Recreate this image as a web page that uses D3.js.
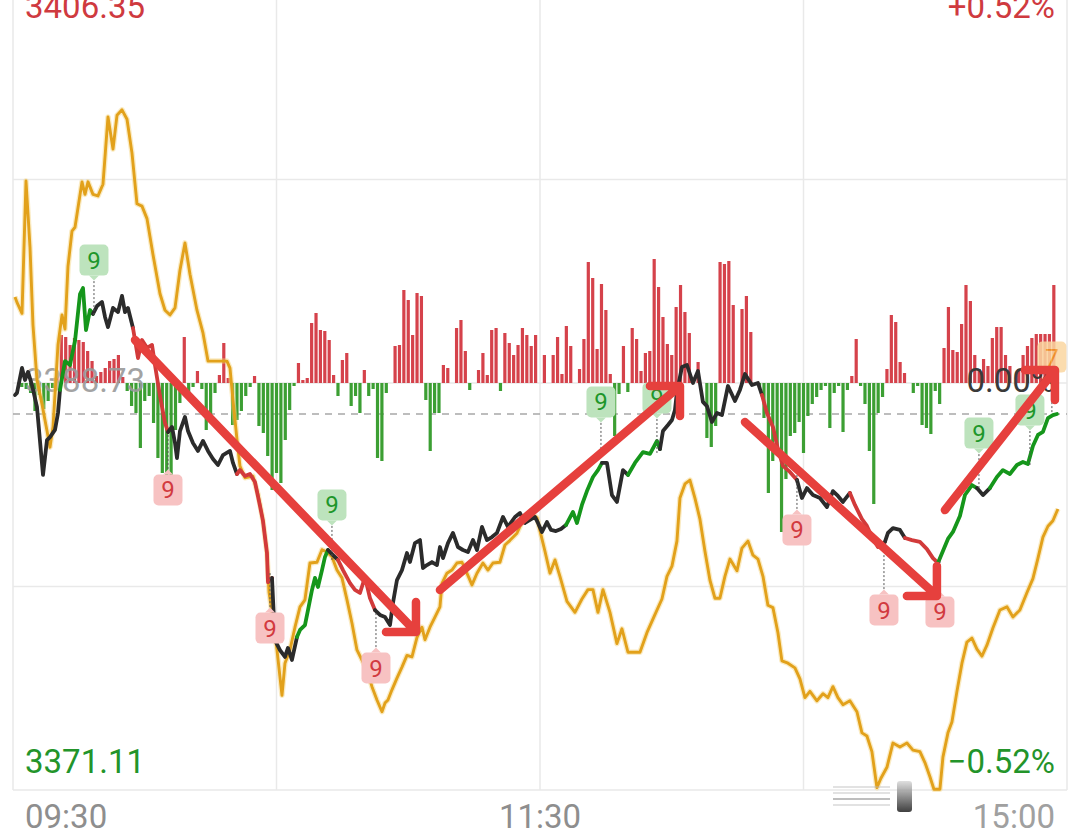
<!DOCTYPE html>
<html><head><meta charset="utf-8">
<script src="https://cdn.jsdelivr.net/npm/d3@7/dist/d3.min.js"></script>
<style>html,body{margin:0;padding:0;background:#fff;}svg{display:block;font-family:Roboto,"Noto Sans",sans-serif;}</style>
</head><body><svg id="chart" width="1080" height="834"></svg>
<script>
// ---------- data ----------
const prevClose = 3388.73, priceHigh = 3406.35, priceLow = 3371.11;
const pctRange = 0.52;
const priceLabels = ["3406.35", "3388.73", "3371.11"];
const pctLabels = ["+0.52%", "0.00%", "-0.52%"];
const timeLabels = ["09:30", "11:30", "15:00"];
const timeLabelMinutes = [0, 120, 240];
const gridMinutes = [0, 60, 120, 180, 240];

// index price (minutes since 09:30)
const priceMinutes = [0.46,0.91,2.05,2.73,3.42,4.33,5.46,6.83,7.74,8.42,9.56,10.25,10.70,11.84,12.98,14.12,15.26,15.94,16.62,17.53,18.21,19.13,20.26,20.95,21.63,22.77,23.91,24.82,25.50,26.18,27.32,27.78,28.46,29.37,30.51,31.65,32.33,33.47,34.61,35.29,36.20,36.89,37.34,38.02,39.16,39.85,40.98,42.12,43.26,44.40,45.54,46.68,47.81,49.41,50.09,51.00,51.68,52.82,53.96,55.10,56.24,56.92,57.83,58.06,58.97,59.65,60.79,61.93,62.61,63.52,64.66,65.35,66.48,67.17,68.08,68.76,69.44,70.36,71.04,71.72,72.86,73.99,75.14,76.73,77.87,79.01,80.15,81.28,82.42,83.56,84.70,85.84,86.52,87.43,88.57,89.71,90.39,91.53,92.67,93.35,94.26,95.40,96.54,97.22,97.91,99.04,100.18,101.32,102.46,103.60,104.74,105.65,106.79,107.92,109.06,110.20,111.57,112.70,114.30,115.44,116.58,117.71,118.85,119.54,120.45,121.58,122.50,123.63,124.77,125.91,127.50,128.42,129.55,130.69,132.06,133.20,134.11,135.25,136.38,137.52,138.89,140.03,141.62,143.44,145.04,146.63,147.31,148.00,149.14,150.05,150.73,151.18,152.32,153.46,154.83,155.97,157.10,158.01,159.15,160.29,161.43,162.80,164.39,165.53,166.67,168.26,169.63,170.54,171.68,173.04,174.18,175.32,176.91,178.51,179.64,180.78,182.15,183.74,185.34,186.70,187.84,188.98,190.57,191.71,193.31,194.44,195.58,196.95,198.54,199.23,200.36,201.96,203.10,204.69,206.51,208.11,209.47,210.61,211.75,212.89,214.03,215.62,216.76,218.35,219.49,220.86,222.45,224.04,225.41,227.00,228.60,229.96,231.10,232.24,233.38,234.52,235.66,236.79,237.70];
const priceValues = [3388.21,3388.30,3389.38,3388.86,3389.21,3388.64,3387.69,3384.75,3386.26,3386.39,3386.70,3387.43,3388.43,3389.68,3389.51,3390.55,3392.58,3392.84,3391.02,3391.89,3391.72,3392.06,3392.24,3391.59,3391.15,3391.98,3391.80,3392.50,3391.80,3391.98,3391.11,3390.59,3389.81,3390.59,3390.25,3390.38,3389.51,3388.17,3387.00,3386.61,3386.83,3386.13,3385.48,3386.65,3387.26,3386.65,3386.13,3385.79,3386.22,3385.79,3385.44,3385.18,3385.61,3385.79,3385.27,3384.79,3384.96,3384.70,3384.79,3384.44,3383.41,3382.76,3381.37,3380.11,3380.29,3377.60,3377.17,3376.87,3377.26,3376.74,3377.73,3378.04,3378.25,3378.90,3379.77,3380.29,3379.90,3380.63,3381.20,3381.50,3381.28,3381.07,3380.63,3380.07,3379.77,3379.64,3380.33,3379.42,3378.90,3378.69,3378.60,3378.25,3379.21,3380.20,3380.63,3381.37,3380.98,3381.80,3381.93,3380.72,3380.85,3380.98,3380.85,3381.63,3381.15,3381.80,3382.24,3381.63,3381.50,3381.41,3381.93,3381.50,3382.50,3381.93,3382.06,3382.24,3382.93,3382.50,3382.93,3383.10,3382.67,3382.80,3382.93,3382.67,3382.28,3382.71,3382.37,3382.32,3382.41,3382.58,3383.15,3382.67,3383.45,3384.05,3384.66,3384.96,3385.27,3385.27,3383.88,3383.58,3384.96,3384.75,3385.27,3385.74,3385.66,3386.22,3385.87,3386.65,3386.91,3387.13,3387.56,3388.34,3389.42,3389.51,3388.73,3389.25,3387.91,3387.73,3387.04,3387.43,3387.34,3388.60,3387.95,3388.43,3389.12,3388.64,3388.73,3388.21,3387.43,3386.83,3385.87,3385.14,3384.88,3384.53,3383.75,3384.18,3383.88,3383.75,3383.36,3384.05,3383.84,3383.58,3383.97,3383.45,3382.84,3382.54,3382.06,3381.63,3381.85,3382.24,3382.45,3382.37,3382.02,3381.93,3381.85,3381.54,3381.15,3380.94,3381.46,3381.98,3382.28,3382.97,3383.88,3384.31,3384.18,3383.88,3384.18,3384.66,3384.96,3384.79,3385.18,3385.31,3385.22,3386.00,3386.48,3386.61,3387.21,3387.34,3387.39];
// trend state of each price segment: k = neutral, g = rising signal, r = falling signal (run lengths)
const trendRuns = [["k",12],["g",8],["k",10],["r",9],["k",16],["r",9],["k",6],["g",9],["k",2],["r",7],["k",41],["g",7],["k",5],["g",5],["k",21],["r",6],["k",9],["r",6],["k",4],["r",5],["g",7],["k",2],["g",13]];

// comparison index, % change
const idxMinutes = [0.46,0.91,2.05,2.96,3.87,4.55,5.46,6.60,7.74,8.42,9.11,10.25,11.16,11.84,12.52,13.43,14.12,14.80,15.71,16.39,17.08,18.21,19.35,20.49,21.63,22.77,23.68,24.82,25.96,27.09,28.23,29.37,30.51,31.88,33.47,34.61,35.75,36.89,38.02,39.16,40.30,41.89,43.26,44.40,45.54,48.72,49.41,50.09,51.00,51.68,52.82,54.64,55.78,56.92,57.83,58.29,58.97,60.11,61.25,61.93,63.07,64.21,65.35,66.48,67.62,69.22,70.36,71.49,72.63,73.77,74.91,76.05,77.19,78.32,79.46,80.60,81.74,82.88,84.02,84.70,85.38,86.29,87.43,88.57,89.71,90.85,91.99,93.12,93.81,94.95,96.08,97.22,97.68,98.82,99.95,101.09,102.23,103.37,104.51,105.65,107.01,108.15,109.29,110.88,112.02,113.16,114.75,116.12,117.71,119.31,120.22,121.13,122.27,123.41,124.54,126.14,127.96,129.55,130.92,132.06,133.20,134.34,135.93,137.52,138.66,140.03,142.76,144.35,146.17,147.77,148.91,150.05,151.18,151.87,153.01,154.14,155.28,156.42,157.56,158.70,159.84,160.97,162.11,163.25,164.85,165.98,167.35,168.49,169.63,170.77,171.90,173.04,174.18,175.09,176.46,178.05,179.19,180.33,181.47,183.06,184.43,185.56,186.70,187.84,188.98,190.57,192.17,193.31,194.44,195.58,196.72,197.63,199.00,200.36,201.96,203.55,204.92,206.51,207.65,208.79,209.70,211.07,211.75,212.89,213.80,214.94,216.08,217.21,218.35,219.49,220.63,221.77,223.13,224.73,226.32,227.69,229.28,230.87,232.24,233.38,234.52,235.66,236.79,237.93];
const idxPct = [0.110,0.103,0.089,0.258,0.174,0.074,0.004,-0.027,-0.061,-0.082,-0.056,0.049,0.087,0.069,0.149,0.194,0.199,0.224,0.257,0.241,0.257,0.241,0.239,0.254,0.340,0.299,0.342,0.349,0.337,0.294,0.229,0.226,0.210,0.164,0.114,0.093,0.087,0.096,0.144,0.179,0.139,0.093,0.064,0.028,0.028,0.028,0.019,-0.022,-0.072,-0.106,-0.121,-0.119,-0.142,-0.176,-0.217,-0.267,-0.293,-0.341,-0.399,-0.358,-0.341,-0.312,-0.286,-0.277,-0.230,-0.229,-0.213,-0.216,-0.222,-0.239,-0.249,-0.277,-0.307,-0.341,-0.354,-0.367,-0.388,-0.405,-0.420,-0.409,-0.405,-0.392,-0.377,-0.363,-0.348,-0.350,-0.325,-0.312,-0.328,-0.312,-0.299,-0.286,-0.256,-0.243,-0.239,-0.230,-0.229,-0.243,-0.258,-0.243,-0.230,-0.239,-0.230,-0.229,-0.207,-0.201,-0.192,-0.175,-0.166,-0.172,-0.194,-0.215,-0.243,-0.226,-0.247,-0.279,-0.293,-0.276,-0.264,-0.264,-0.293,-0.264,-0.293,-0.333,-0.314,-0.344,-0.344,-0.319,-0.296,-0.276,-0.247,-0.234,-0.202,-0.147,-0.129,-0.124,-0.147,-0.174,-0.215,-0.252,-0.275,-0.275,-0.247,-0.225,-0.240,-0.211,-0.202,-0.220,-0.225,-0.247,-0.284,-0.287,-0.319,-0.355,-0.358,-0.364,-0.378,-0.402,-0.394,-0.406,-0.397,-0.402,-0.388,-0.402,-0.411,-0.406,-0.420,-0.447,-0.451,-0.471,-0.517,-0.505,-0.491,-0.460,-0.465,-0.460,-0.469,-0.471,-0.485,-0.503,-0.519,-0.519,-0.478,-0.447,-0.433,-0.394,-0.358,-0.331,-0.326,-0.340,-0.349,-0.335,-0.313,-0.290,-0.286,-0.299,-0.290,-0.268,-0.250,-0.224,-0.197,-0.183,-0.176,-0.161];

// per-minute net flow (minute 0..237)
const flowValues = [0,0,-4,-6,-10,-28,-12,-26,-18,-5,10,48,46,38,45,43,41,32,22,7,11,15,22,24,28,6,-8,-23,-30,-65,-18,-13,-40,-75,-90,-92,-92,-47,-20,46,-10,-4,12,-6,-47,-37,-10,8,40,5,-42,-37,-28,-13,-4,7,-43,-50,-73,-107,-90,-100,-57,-27,-3,20,3,5,60,70,53,52,43,8,-13,23,30,-23,-13,-30,13,-13,-6,-75,-78,-10,0,37,38,93,83,48,90,87,-17,-68,-30,-30,18,15,0,55,63,32,-7,0,13,30,8,53,55,-8,50,40,28,38,55,48,37,48,0,28,0,28,46,9,57,37,0,14,44,121,105,34,99,73,9,-53,-11,37,-9,55,44,12,30,32,124,96,66,39,28,76,98,71,50,0,21,0,-55,-64,-43,121,119,122,78,0,74,87,51,0,-5,-35,-110,-78,-64,-149,-96,-53,-50,-39,-70,-33,-21,-14,-7,-3,-45,-10,-3,-49,-7,7,44,-3,-21,-68,-121,-30,-14,14,68,61,21,10,0,-10,-3,-42,-45,-51,-8,-21,35,76,33,31,59,98,82,28,14,24,17,45,56,56,28,17,0,14,28,37,45,49,49,49,49,98];

// "9" signals
const signalMinutes = [18.44,35.29,58.52,72.63,82.65,133.88,146.63,178.51,198.32,211.07,219.95,231.56,236.56];
const signalPrices = [3391.67,3386.48,3380.50,3381.07,3378.77,3385.53,3385.70,3384.75,3381.28,3381.20,3384.18,3385.18,3387.47];
const signalTypes = ["up","down","down","up","down","up","up","down","down","down","up","up","count"];
const signalLabels = ["9","9","9","9","9","9","9","9","9","9","9","9","7"];

// hand-drawn trend arrows
const arrowFromMin = [27.78, 97.22, 166.67, 212.20];
const arrowFromPrice = [3390.59, 3379.77, 3387.04, 3383.23];
const arrowToMin = [91.76, 151.87, 210.38, 237.25];
const arrowToPrice = [3377.95, 3388.60, 3379.51, 3389.29];

// ---------- drawing ----------
const svg = d3.select("#chart");
const x = d3.scaleLinear().domain([0, 240]).range([13, 1067]);
const y = d3.scaleLinear().domain([priceLow, priceHigh]).range([790, -24]);
const yPct = d3.scaleLinear().domain([-pctRange, pctRange]).range([790, -24]);
const y0 = y(prevClose);
const yFlow = d3.scaleLinear().domain([-200, 200]).range([y0 + 200, y0 - 200]);

const RED = "#cf3a3f", GREEN = "#23942a", GRAY = "#8e8e8e";

// grid
const grid = svg.append("g");
const q1 = priceLow + (prevClose - priceLow) / 2, q3 = prevClose + (priceHigh - prevClose) / 2;
grid.selectAll("line.h").data([q3, prevClose, q1, priceLow]).join("line")
  .attr("x1", x(0)).attr("x2", x(240)).attr("y1", d => y(d)).attr("y2", d => y(d))
  .attr("stroke", "#e9e9e9").attr("stroke-width", 1.5);
grid.selectAll("line.v").data(gridMinutes).join("line")
  .attr("x1", d => x(d)).attr("x2", d => x(d)).attr("y1", y(priceHigh)).attr("y2", y(priceLow))
  .attr("stroke", "#e9e9e9").attr("stroke-width", 1.5);

// last price dashed line
const lastPrice = priceValues[priceValues.length - 1];
svg.append("line").attr("x1", x(0)).attr("x2", x(240)).attr("y1", y(lastPrice)).attr("y2", y(lastPrice))
  .attr("stroke", "#a8a8a8").attr("stroke-width", 1.6).attr("stroke-dasharray", "7,6");

// flow bars
svg.append("g").selectAll("rect").data(flowValues).join("rect")
  .attr("x", (d, i) => x(i) - 1.6).attr("width", 3.2)
  .attr("y", d => d >= 0 ? yFlow(d) : y0)
  .attr("height", d => Math.abs(yFlow(d) - y0))
  .attr("fill", d => d >= 0 ? "#d5424b" : "#3c9f33");

// mid labels
svg.append("text").attr("x", x(0) + 12).attr("y", y0 + 9).text(priceLabels[1])
  .attr("font-size", 33).attr("fill", "#9a9a9a").attr("opacity", 0.9);

// comparison index line
const idxData = idxMinutes.map((m, i) => [m, idxPct[i]]);
svg.append("path").datum(idxData)
  .attr("d", d3.line().x(d => x(d[0])).y(d => yPct(d[1])))
  .attr("fill", "none").attr("stroke", "#f3d27a").attr("stroke-width", 5.5).attr("opacity", 0.45)
  .attr("stroke-linejoin", "round");
svg.append("path").datum(idxData)
  .attr("d", d3.line().x(d => x(d[0])).y(d => yPct(d[1])))
  .attr("fill", "none").attr("stroke", "#e2a11b").attr("stroke-width", 2.9)
  .attr("stroke-linejoin", "round");

// price line segments
const states = [];
trendRuns.forEach(([s, n]) => { for (let k = 0; k < n; k++) states.push(s); });
const pts = priceMinutes.map((m, i) => [m, priceValues[i]]);
const segColor = { k: "#2b2b2b", g: "#15961b", r: "#d23a3a" };
const segs = [];
let start = 0;
for (let i = 1; i <= pts.length - 1; i++) {
  if (i === pts.length - 1 || states[i] !== states[start]) {
    segs.push({ s: states[start], p: pts.slice(start, i + 1) });
    start = i;
  }
}
const line = d3.line().x(d => x(d[0])).y(d => y(d[1]));
svg.append("g").selectAll("path").data(segs).join("path")
  .attr("d", d => line(d.p)).attr("fill", "none")
  .attr("stroke", d => segColor[d.s]).attr("stroke-width", 3.8)
  .attr("stroke-linejoin", "round").attr("stroke-linecap", "round");

// signal badges
const bW = 29, bH = 31, gap = 55;
const badgeStyle = {
  up: { fill: "#bde3bd", text: "#1d962a" },
  down: { fill: "#f7c2c2", text: "#d23a3f" },
  count: { fill: "#fbd7a0", text: "#f39a26" }
};
const bg = svg.append("g");
signalMinutes.forEach((m, i) => {
  const ax = x(m), ay = y(signalPrices[i]);
  const t = signalTypes[i], st = badgeStyle[t];
  const above = t !== "down";
  const cy = above ? ay - gap : ay + gap;
  const edge = above ? cy + bH / 2 + 5 : cy - bH / 2 - 5;
  bg.append("line").attr("x1", ax).attr("x2", ax).attr("y1", ay).attr("y2", edge)
    .attr("stroke", "#555").attr("stroke-width", 1).attr("stroke-dasharray", "2,2");
  const g = bg.append("g").attr("opacity", t === "count" ? 0.85 : 1);
  g.append("rect").attr("x", ax - bW / 2).attr("y", cy - bH / 2).attr("width", bW).attr("height", bH)
    .attr("rx", 5).attr("fill", st.fill);
  const py = above ? cy + bH / 2 : cy - bH / 2;
  const dir = above ? 1 : -1;
  g.append("path").attr("d", `M${ax - 5},${py} L${ax + 5},${py} L${ax},${py + dir * 5} Z`).attr("fill", st.fill);
  g.append("text").attr("x", ax).attr("y", cy + 8.5).attr("text-anchor", "middle")
    .attr("font-size", 24).attr("fill", st.text).text(signalLabels[i]);
});

// 0.00% label
svg.append("text").attr("x", x(240) - 12).attr("y", y0 + 9).attr("text-anchor", "end")
  .attr("font-size", 33).attr("fill", "#3a3a3a").text(pctLabels[1]);

// arrows
const ag = svg.append("g");
const headLen = 30;
arrowFromMin.forEach((m, i) => {
  const x1 = x(m), y1 = y(arrowFromPrice[i]), x2 = x(arrowToMin[i]), y2 = y(arrowToPrice[i]);
  const sgn = y2 > y1 ? -1 : 1;
  ag.append("path")
    .attr("d", `M${x1},${y1} L${x2},${y2} M${x2 - headLen},${y2} L${x2},${y2} L${x2},${y2 + sgn * headLen}`)
    .attr("fill", "none").attr("stroke", "#e6403d").attr("stroke-width", 8.5)
    .attr("stroke-linecap", "round").attr("stroke-linejoin", "round");
});

// corner labels
const lab = svg.append("g").attr("font-size", 33);
lab.append("text").attr("x", x(0) + 12).attr("y", 18).attr("fill", RED).text(priceLabels[0]);
lab.append("text").attr("x", x(240) - 12).attr("y", 18).attr("fill", RED).attr("text-anchor", "end").text(pctLabels[0]);
lab.append("text").attr("x", x(0) + 12).attr("y", 773).attr("fill", GREEN).text(priceLabels[2]);
lab.append("text").attr("x", x(240) - 12).attr("y", 773).attr("fill", GREEN).attr("text-anchor", "end").text(pctLabels[2].replace("-", "\u2212"));
const anchors = ["start", "middle", "end"];
const offs = [12, 0, -12];
timeLabels.forEach((t, i) => {
  lab.append("text").attr("x", x(timeLabelMinutes[i]) + offs[i]).attr("y", 828)
    .attr("text-anchor", anchors[i]).attr("fill", i === 2 ? "#a0a0a0" : GRAY).text(t);
});

// faint source watermark near bottom right
const defs = svg.append("defs");
const grad = defs.append("linearGradient").attr("id", "wm").attr("x1", 0).attr("x2", 0).attr("y1", 0).attr("y2", 1);
grad.append("stop").attr("offset", "0%").attr("stop-color", "#d8d8d8");
grad.append("stop").attr("offset", "100%").attr("stop-color", "#111");
const wm = svg.append("g").attr("opacity", 0.8);
wm.append("rect").attr("x", 897).attr("y", 781).attr("width", 15).attr("height", 31).attr("rx", 3).attr("fill", "url(#wm)");
[787, 793, 799, 805].forEach((yy, k) => {
  wm.append("line").attr("x1", 833).attr("x2", 890).attr("y1", yy).attr("y2", yy)
    .attr("stroke", k === 2 ? "#666" : "#bbb").attr("stroke-width", 1.3).attr("opacity", 0.7);
});
</script></body></html>
